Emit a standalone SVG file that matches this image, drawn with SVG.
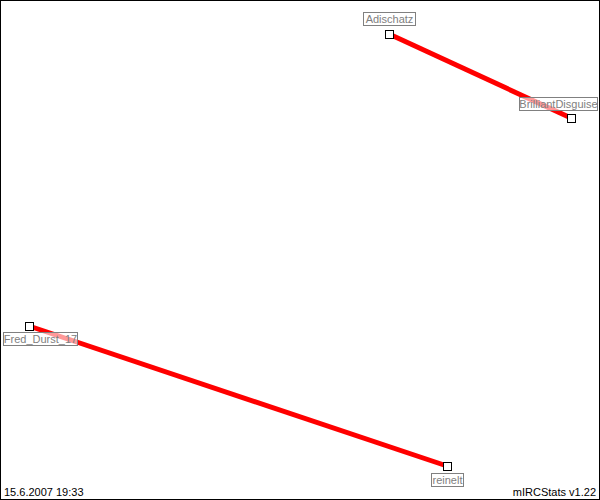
<svg xmlns="http://www.w3.org/2000/svg" width="600" height="500" viewBox="0 0 600 500">
<style>
.edge{stroke:#ff0000;stroke-width:5;stroke-linecap:butt;fill:none}
.node{fill:#ffffff;stroke:#000000;stroke-width:1}
.lbox{fill:#ffffff;fill-opacity:0.6;stroke:#808080;stroke-width:1}
.ltext{font-family:"Liberation Sans",Arial,sans-serif;font-size:11px;fill:#808080;text-anchor:middle}
.foot{font-family:"Liberation Sans",Arial,sans-serif;font-size:11px;fill:#000000}
</style>
<rect x="0" y="0" width="600" height="500" fill="#ffffff"/>
<rect x="0.5" y="0.5" width="599" height="499" fill="none" stroke="#000000" stroke-width="1"/>
<g id="connectors">
<line class="edge" x1="389" y1="34" x2="571" y2="118"/>
<line class="edge" x1="29" y1="326" x2="447" y2="466"/>
</g>
<g id="node-Adischatz">
<rect class="lbox" x="363.5" y="12.5" width="52" height="13"/>
<text class="ltext" x="389.5" y="23">Adischatz</text>
<rect class="node" x="385.5" y="30.5" width="8" height="8"/>
</g>
<g id="node-BrilliantDisguise">
<rect class="lbox" x="519.5" y="97.5" width="78" height="13"/>
<text class="ltext" x="558.5" y="108">BrilliantDisguise</text>
<rect class="node" x="567.5" y="114.5" width="8" height="8"/>
</g>
<g id="node-Fred_Durst_17">
<rect class="lbox" x="3.5" y="332.5" width="74" height="13"/>
<text class="ltext" x="40.5" y="343">Fred_Durst_17</text>
<rect class="node" x="25.5" y="322.5" width="8" height="8"/>
</g>
<g id="node-reinelt">
<rect class="lbox" x="431.5" y="473.5" width="32" height="13"/>
<text class="ltext" x="447.5" y="484">reinelt</text>
<rect class="node" x="443.5" y="462.5" width="8" height="8"/>
</g>
<text class="foot" x="4" y="496">15.6.2007 19:33</text>
<text class="foot" x="596" y="496" text-anchor="end">mIRCStats v1.22</text>
</svg>
